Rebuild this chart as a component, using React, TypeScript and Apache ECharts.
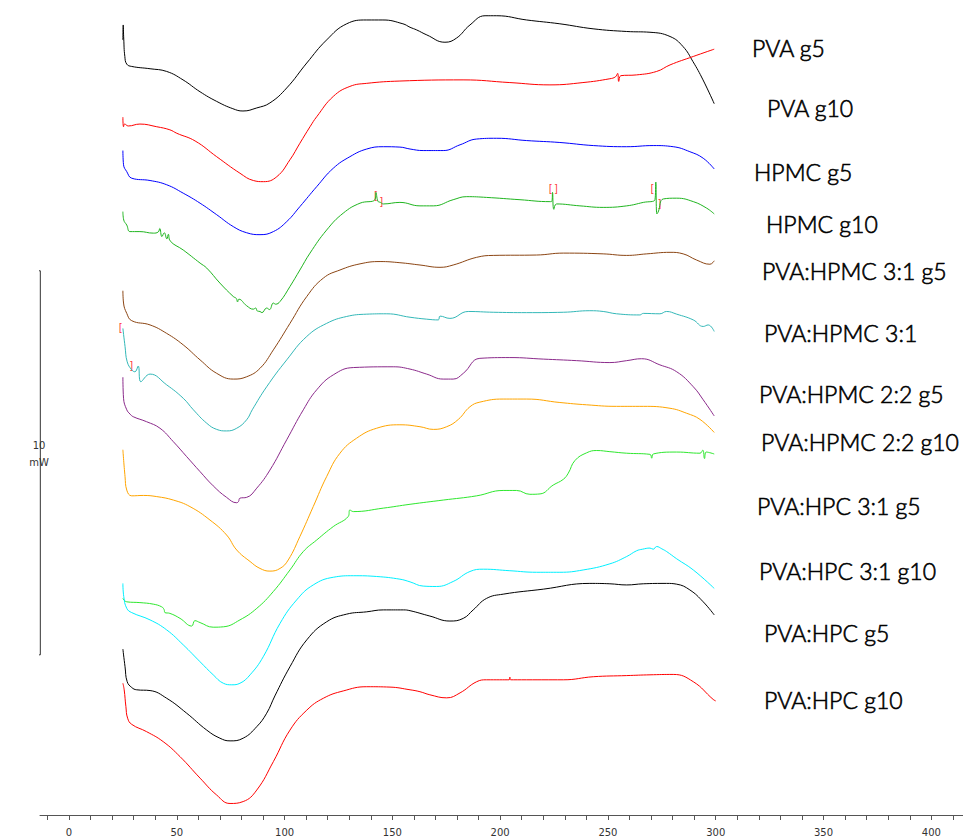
import React, { useEffect, useRef } from "react";
import * as echarts from "echarts";

// Sample names (legend labels on the right)
const sampleNames = [
  "PVA g5",
  "PVA g10",
  "HPMC g5",
  "HPMC g10",
  "PVA:HPMC 3:1 g5",
  "PVA:HPMC 3:1",
  "PVA:HPMC 2:2 g5",
  "PVA:HPMC 2:2 g10",
  "PVA:HPC 3:1 g5",
  "PVA:HPC 3:1 g10",
  "PVA:HPC g5",
  "PVA:HPC g10",
];

// Temperature (°C) vs heat flow (mW, stacked offsets)
const pvaG5 = [[25.0,20.18],[25.15,20.57],[25.4,20.2],[25.9,19.75],[26.8,19.55],[29.1,19.49],[37.6,19.43],[45.3,19.36],[52.9,19.14],[60.8,18.83],[68.5,18.58],[76.0,18.39],[80.7,18.33],[87.1,18.41],[93.2,18.54],[101.0,18.93],[110.3,19.58],[119.5,20.18],[128.8,20.60],[138.1,20.70],[145.6,20.70],[154.9,20.60],[158.2,20.51],[161.3,20.44],[166.0,20.31],[174.4,20.12],[179.8,20.23],[186.0,20.57],[193.0,20.81],[198.4,20.81],[212.3,20.70],[227.7,20.60],[243.1,20.47],[258.7,20.40],[269.5,20.38],[278.8,20.27],[284.8,20.01],[289.4,19.62],[294.1,19.14],[299.3,18.52]];
const pvaG10 = [[25.0,18.17],[25.3,17.92],[25.8,17.99],[27.5,17.94],[32.9,17.99],[40.7,17.92],[46.8,17.84],[50.0,17.75],[58.5,17.55],[68.5,17.14],[79.3,16.71],[85.5,16.52],[90.2,16.49],[96.4,16.62],[102.5,17.06],[107.1,17.49],[111.8,17.92],[114.9,18.18],[122.6,18.71],[130.3,18.97],[138.1,19.05],[153.5,19.11],[182.8,19.14],[204.5,19.07],[223.1,19.01],[238.4,19.07],[250.9,19.17],[253.5,19.22],[254.5,19.31],[255.0,19.10],[256.0,19.25],[263.3,19.27],[272.6,19.36],[278.8,19.53],[289.6,19.75],[299.3,19.94]];
const hpmcG5 = [[25.0,17.30],[25.3,16.93],[26.8,16.75],[29.1,16.58],[37.6,16.52],[45.3,16.41],[53.0,16.19],[60.8,15.93],[68.5,15.63],[76.2,15.32],[82.4,15.16],[88.6,15.11],[94.8,15.19],[101.0,15.45],[107.1,15.84],[114.9,16.36],[122.6,16.84],[130.3,17.14],[138.1,17.34],[145.8,17.40],[153.5,17.39],[158.2,17.34],[164.3,17.30],[173.6,17.30],[181.4,17.45],[189.1,17.60],[198.4,17.62],[212.3,17.56],[227.7,17.51],[243.2,17.43],[258.7,17.40],[271.0,17.43],[280.3,17.40],[288.0,17.27],[294.2,17.10],[299.3,16.82]];
const hpmcG10 = [[25.0,15.71],[25.4,15.49],[26.8,15.36],[28.3,15.19],[32.9,15.19],[39.1,15.15],[41.4,15.18],[42.1,15.27],[43.1,15.06],[44.2,15.16],[45.4,15.00],[46.1,15.12],[46.9,14.95],[53.0,14.71],[60.8,14.37],[63.9,14.24],[70.0,13.85],[76.2,13.50],[77.6,13.45],[78.2,13.36],[78.8,13.43],[82.4,13.26],[85.5,13.17],[86.6,13.20],[87.4,13.12],[88.6,13.11],[89.5,13.08],[91.7,13.20],[93.0,13.16],[94.8,13.33],[95.8,13.30],[97.9,13.37],[102.5,13.76],[107.1,14.19],[111.8,14.63],[119.5,15.23],[127.2,15.67],[135.0,15.93],[141.9,16.02],[142.4,16.21],[143.3,15.98],[144.5,15.95],[145.8,15.91],[153.5,15.95],[162.8,15.86],[169.0,15.86],[178.2,16.02],[184.5,16.10],[193.7,16.08],[209.2,16.02],[223.1,15.97],[224.0,15.98],[224.3,16.21],[224.9,15.77],[226.2,15.91],[237.0,15.86],[247.8,15.82],[258.7,15.86],[266.4,15.95],[271.8,16.02],[272.2,16.48],[272.7,15.65],[273.3,15.70],[275.7,16.04],[281.9,16.06],[289.6,15.97],[295.8,15.80],[299.3,15.65]];
const pvaHpmc31G5 = [[25.0,13.65],[25.3,13.33],[26.8,13.06],[29.1,12.87],[37.6,12.76],[45.3,12.54],[53.0,12.24],[60.8,11.85],[68.5,11.50],[76.2,11.35],[82.4,11.41],[88.6,11.63],[94.8,12.11],[102.5,12.80],[110.3,13.50],[118.0,13.98],[125.7,14.19],[135.0,14.35],[144.3,14.41],[153.5,14.38],[162.8,14.32],[172.1,14.26],[178.2,14.32],[189.1,14.52],[196.8,14.57],[216.9,14.58],[229.3,14.63],[247.8,14.61],[258.7,14.57],[268.0,14.61],[278.8,14.65],[284.9,14.61],[291.1,14.45],[297.3,14.34],[299.3,14.43]];
const pvaHpmc31G10 = [[25.0,12.67],[26.0,12.20],[27.0,11.80],[29.1,11.59],[30.6,11.54],[32.1,11.69],[33.3,11.28],[37.6,11.48],[45.3,11.20],[53.0,10.85],[57.7,10.55],[63.9,10.20],[68.5,10.04],[73.1,10.00],[77.8,10.07],[82.4,10.29],[85.0,10.55],[91.7,11.15],[101.0,11.85],[110.3,12.46],[119.5,12.80],[128.8,12.98],[138.1,13.04],[147.4,13.05],[158.2,12.96],[165.9,12.91],[171.3,12.89],[172.1,12.99],[176.7,12.93],[185.2,13.11],[196.8,13.09],[212.3,13.08],[229.3,13.09],[241.6,13.13],[247.8,13.11],[254.0,13.05],[264.8,13.02],[266.4,13.06],[274.1,13.05],[277.2,13.11],[281.9,13.04],[289.6,12.89],[294.2,12.72],[296.5,12.76],[299.3,12.59]];
const pvaHpmc22G5 = [[25.0,11.40],[25.3,10.85],[26.8,10.55],[28.3,10.44],[29.8,10.37],[36.0,10.24],[42.2,10.07],[48.4,9.72],[54.6,9.33],[60.8,8.94],[66.9,8.57],[73.1,8.27],[77.8,8.13],[78.6,8.16],[79.3,8.25],[82.4,8.27],[87.1,8.51],[93.2,8.98],[101.0,9.77],[108.7,10.55],[114.9,11.07],[122.6,11.46],[131.9,11.65],[150.4,11.67],[158.2,11.61],[165.9,11.48],[173.6,11.35],[178.2,11.35],[182.9,11.50],[190.6,11.89],[204.5,11.91],[220.0,11.87],[235.5,11.83],[250.9,11.78],[258.7,11.83],[265.6,11.88],[274.1,11.72],[281.9,11.54],[289.6,11.15],[294.2,10.81],[299.3,10.39]];
const pvaHpmc22G10 = [[25.0,9.51],[26.0,8.81],[26.8,8.46],[29.1,8.31],[34.5,8.32],[40.7,8.29],[48.4,8.20],[56.1,8.03],[65.4,7.68],[73.1,7.29],[77.8,6.90],[84.0,6.60],[88.6,6.42],[93.2,6.35],[97.9,6.42],[101.7,6.64],[107.1,7.25],[113.3,8.03],[119.5,8.81],[125.7,9.42],[133.4,9.81],[142.7,10.07],[153.5,10.16],[162.8,10.11],[169.0,10.04],[175.2,10.11],[180.6,10.30],[186.0,10.63],[190.6,10.75],[201.4,10.83],[212.3,10.83],[227.7,10.74],[240.1,10.68],[254.0,10.64],[266.4,10.64],[278.8,10.59],[286.5,10.46],[292.7,10.30],[299.3,9.96]];
const pvaHpc31G5 = [[25.0,5.64],[26.8,5.55],[32.9,5.53],[39.1,5.49],[43.0,5.42],[44.1,5.35],[44.5,5.27],[46.8,5.25],[51.5,5.12],[56.9,4.92],[58.4,5.06],[60.8,5.01],[66.9,4.89],[71.6,4.90],[79.3,5.08],[87.1,5.38],[94.8,5.82],[102.5,6.38],[108.7,6.86],[114.9,7.16],[122.6,7.51],[129.5,7.77],[130.3,7.94],[131.9,7.90],[145.8,7.99],[158.2,8.09],[173.6,8.20],[189.1,8.31],[201.4,8.45],[207.6,8.45],[213.8,8.35],[218.5,8.36],[224.6,8.59],[229.3,8.74],[231.6,8.90],[234.7,9.23],[240.1,9.43],[244.8,9.49],[250.9,9.46],[258.7,9.42],[269.5,9.39],[270.3,9.29],[271.0,9.40],[281.9,9.45],[292.7,9.42],[294.0,9.50],[294.8,9.28],[295.6,9.45],[299.3,9.40]];
const pvaHpc31G10 = [[25.0,6.03],[25.4,5.69],[26.8,5.38],[29.1,5.27],[37.6,5.08],[45.3,4.82],[53.0,4.43],[60.8,3.99],[66.9,3.65],[71.6,3.43],[75.5,3.39],[79.3,3.43],[84.0,3.65],[90.1,4.12],[97.9,4.99],[105.6,5.60],[113.3,5.99],[122.6,6.19],[131.9,6.23],[142.7,6.21],[153.5,6.14],[158.2,6.07],[164.3,5.96],[170.5,5.95],[178.2,6.08],[186.0,6.34],[192.2,6.40],[204.5,6.36],[216.9,6.32],[227.7,6.32],[238.5,6.38],[250.9,6.54],[258.7,6.73],[263.3,6.88],[266.0,6.92],[269.5,6.95],[271.0,6.92],[272.6,6.99],[275.0,6.93],[277.2,6.86],[281.9,6.67],[289.6,6.38],[299.3,5.90]];
const pvaHpcG5 = [[25.0,4.32],[26.0,3.86],[27.0,3.47],[29.1,3.32],[31.4,3.26],[37.6,3.24],[45.3,3.04],[54.6,2.65],[63.9,2.21],[70.0,2.00],[74.7,1.93],[80.8,2.00],[87.1,2.30],[91.7,2.65],[95.5,3.10],[102.5,3.86],[110.3,4.56],[119.5,5.03],[128.8,5.23],[138.1,5.29],[145.8,5.34],[155.1,5.34],[158.2,5.32],[167.4,5.18],[176.7,5.05],[182.9,5.12],[187.5,5.34],[193.7,5.64],[201.4,5.75],[220.0,5.88],[241.6,6.03],[250.9,6.02],[258.7,5.99],[266.4,6.02],[277.2,6.03],[281.9,6.01],[288.0,5.86],[294.2,5.55],[299.3,5.21]];
const pvaHpcG10 = [[25.0,3.43],[25.6,3.26],[26.4,2.82],[27.2,2.52],[29.1,2.36],[36.0,2.17],[43.7,1.91],[51.5,1.52],[60.8,0.96],[68.5,0.52],[74.7,0.30],[80.8,0.35],[87.1,0.65],[94.8,1.39],[102.5,2.21],[110.3,2.73],[118.0,3.04],[127.2,3.23],[138.1,3.34],[148.9,3.33],[158.2,3.26],[162.8,3.21],[167.4,3.13],[175.2,3.05],[181.4,3.18],[189.1,3.47],[193.7,3.52],[204.2,3.52],[204.5,3.59],[204.8,3.52],[212.3,3.52],[229.3,3.52],[243.2,3.60],[258.7,3.63],[269.5,3.65],[280.3,3.66],[289.6,3.47],[298.8,3.01],[300.0,2.97]];

const curves = [pvaG5, pvaG10, hpmcG5, hpmcG10, pvaHpmc31G5, pvaHpmc31G10, pvaHpmc22G5, pvaHpmc22G10, pvaHpc31G5, pvaHpc31G10, pvaHpcG5, pvaHpcG10];

// Small red bracket markers printed by the instrument software
const bracketMarks = [
  [142.4, 16.12, "["], [144.8, 15.98, "]"],
  [223.4, 16.32, "["], [225.9, 16.32, "]"],
  [270.6, 16.30, "["], [273.9, 15.93, "]"],
  [24.0, 12.68, "["], [28.8, 11.71, "]"],
];

// Scale bar (mW)
const scaleBarBottom = 4.17;
const scaleBarSpan = 10;
const scaleBarT = -13.3;

const xTicks = [-10,0,10,20,30,40,50,60,70,80,90,100,110,120,130,140,150,160,170,180,190,200,210,220,230,240,250,260,270,280,290,300,310,320,330,340,350,360,370,380,390,400,410];
const xLabels = [0, 50, 100, 150, 200, 250, 300, 350, 400];

const colors = ["#000000","#ff0000","#0000ff","#1fb51f","#8b4513","#33b8b8","#8b2a8b","#ffa500","#2ee82e","#00f0ff","#000000","#ff0000"];
const labelPos = [[752,48],[767,108],[754,172],[766,224],[762,271],[764,333],[759,394],[761,442],[757,506],[759,571],[764,633],[764,700]];

export default function App() {
  const ref = useRef<HTMLDivElement>(null);
  useEffect(() => {
    document.body.style.margin = "0";
    const chart = echarts.init(ref.current!, null, { renderer: "svg" });
    const lineSeries = curves.map((d, i) => ({
      type: "line",
      name: sampleNames[i],
      data: d,
      showSymbol: false,
      symbol: "none",
      smooth: 0.45,
      lineStyle: { width: 1, color: colors[i] },
      silent: true,
    }));
    const scaleTop = scaleBarBottom + scaleBarSpan;
    chart.setOption({
      animation: false,
      grid: { left: 40, right: 0, top: 0, bottom: 22, containLabel: false },
      xAxis: {
        type: "value",
        min: -13.45,
        max: 414.7,
        axisLine: { show: true, lineStyle: { color: "#555", width: 1 } },
        axisTick: { show: true, customValues: xTicks, length: 5, lineStyle: { color: "#555" } },
        axisLabel: { show: true, customValues: xLabels, fontSize: 10, fontFamily: "DejaVu Sans", color: "#333", margin: 12 },
        splitLine: { show: false },
      },
      yAxis: { type: "value", min: 0, max: 21.22, show: false },
      series: [
        ...lineSeries,
        {
          type: "line",
          data: [[scaleBarT - 2.2, scaleTop], [scaleBarT, scaleTop], [scaleBarT, scaleBarBottom], [scaleBarT - 2.2, scaleBarBottom]],
          showSymbol: false,
          symbol: "none",
          clip: false,
          lineStyle: { width: 1, color: "#333" },
          silent: true,
        },
        {
          type: "scatter",
          data: bracketMarks,
          symbolSize: 0,
          silent: true,
          label: {
            show: true,
            position: "inside",
            formatter: (p: any) => p.data[2],
            color: "#ff0000",
            fontSize: 10,
            fontFamily: "DejaVu Sans",
          },
        },
      ],
      graphic: [
        {
          type: "text",
          x: 39,
          y: 454,
          style: { text: "10\nmW", fontSize: 10, fontFamily: "DejaVu Sans", fill: "#333", align: "center", verticalAlign: "middle", lineHeight: 17 },
        },
        ...sampleNames.map((n, i) => ({
          type: "text",
          x: labelPos[i][0],
          y: labelPos[i][1],
          style: {
            text: n,
            fontSize: 23,
            fontFamily: "Lato",
            fontWeight: 300,
            fill: "#000",
            stroke: "#000",
            lineWidth: 0.6,
            verticalAlign: "middle",
          },
        })),
      ],
    });
    return () => chart.dispose();
  }, []);
  return <div ref={ref} style={{ width: 963, height: 837 }} />;
}
